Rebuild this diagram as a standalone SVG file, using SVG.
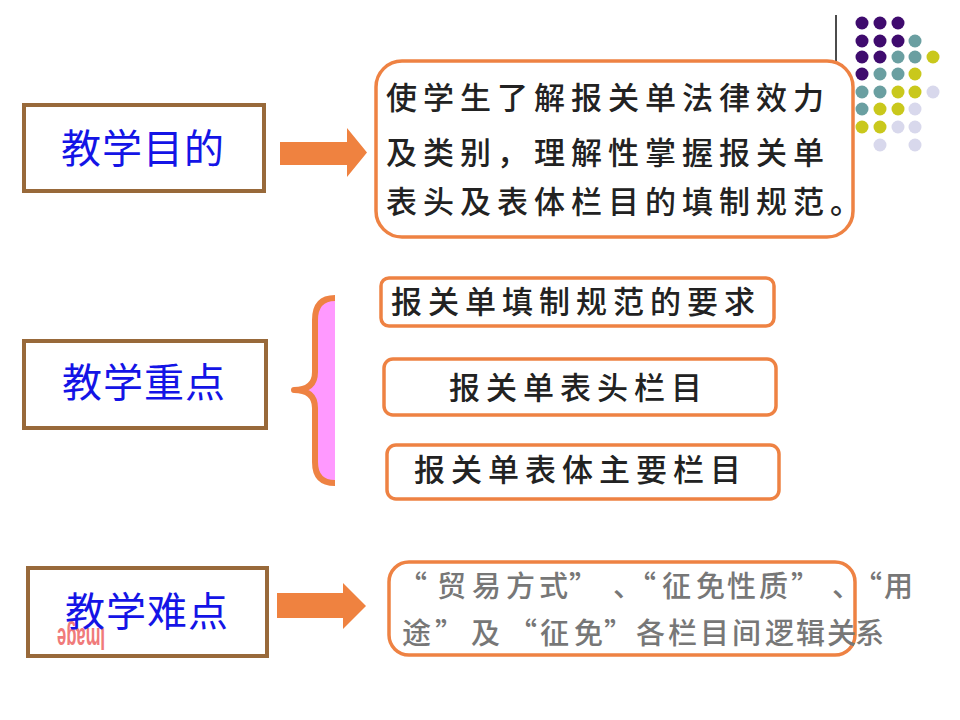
<svg xmlns="http://www.w3.org/2000/svg" width="960" height="720" viewBox="0 0 960 720">
<style>
.lbl{fill:none;stroke:#98693A;stroke-width:4}
.blue{font-family:"Noto Sans CJK SC","Liberation Sans",sans-serif;font-size:40px;fill:#1414E6;letter-spacing:1px}
.rb{fill:#fff;stroke:#EE8243;stroke-width:3.5}
.dk{font-family:"Noto Sans CJK SC","Liberation Sans",sans-serif;font-size:31px;fill:#222;font-weight:500;letter-spacing:6px}
.gr{font-family:"Noto Sans CJK SC","Liberation Sans",sans-serif;font-size:29px;fill:#777;font-weight:500}
.arrow{fill:#EF8240}
.pu{fill:#3F0B6E}.te{fill:#6A9FA1}.ye{fill:#C9C81C}.la{fill:#D8D8EC}
</style>
<rect width="960" height="720" fill="#fff"/>

<g id="decor">
<line x1="836" y1="15" x2="836" y2="175" stroke="#111" stroke-width="1.5"/>
<circle class="pu" cx="862" cy="23" r="6.5"/><circle class="pu" cx="880" cy="23" r="6.5"/><circle class="pu" cx="898" cy="23" r="6.5"/>
<circle class="pu" cx="862" cy="41" r="6.5"/><circle class="pu" cx="880" cy="41" r="6.5"/><circle class="pu" cx="898" cy="41" r="6.5"/><circle class="te" cx="915" cy="41" r="6.5"/>
<circle class="pu" cx="862" cy="57" r="6.5"/><circle class="pu" cx="880" cy="57" r="6.5"/><circle class="te" cx="898" cy="57" r="6.5"/><circle class="te" cx="915" cy="57" r="6.5"/><circle class="ye" cx="933" cy="57" r="6.5"/>
<circle class="pu" cx="862" cy="74" r="6.5"/><circle class="te" cx="880" cy="74" r="6.5"/><circle class="te" cx="898" cy="74" r="6.5"/><circle class="ye" cx="915" cy="74" r="6.5"/>
<circle class="te" cx="862" cy="92" r="6.5"/><circle class="te" cx="880" cy="92" r="6.5"/><circle class="ye" cx="898" cy="92" r="6.5"/><circle class="ye" cx="915" cy="92" r="6.5"/><circle class="la" cx="933" cy="92" r="6.5"/>
<circle class="te" cx="862" cy="109" r="6.5"/><circle class="ye" cx="880" cy="109" r="6.5"/><circle class="ye" cx="898" cy="109" r="6.5"/><circle class="la" cx="915" cy="109" r="6.5"/>
<circle class="ye" cx="862" cy="127" r="6.5"/><circle class="ye" cx="880" cy="127" r="6.5"/><circle class="la" cx="898" cy="127" r="6.5"/><circle class="la" cx="915" cy="127" r="6.5"/>
<circle class="la" cx="880" cy="145" r="6.5"/><circle class="la" cx="915" cy="145" r="6.5"/>
</g>

<g id="goal">
<rect class="lbl" x="24" y="105" width="240" height="86"/>
<text class="blue" x="61" y="163">教学目的</text>
</g>
<g id="key">
<rect class="lbl" x="24" y="341" width="242" height="87"/>
<text class="blue" x="62" y="397">教学重点</text>
</g>
<g id="difficult">
<rect class="lbl" x="28" y="568" width="239" height="88"/>
<text transform="translate(105,628) rotate(180)" x="0" y="0" font-family="Liberation Sans Narrow,Liberation Sans,sans-serif" font-size="32" font-weight="bold" fill="#F07A7A" textLength="48" lengthAdjust="spacingAndGlyphs">Image</text>
<text class="blue" x="65" y="626">教学难点</text>
</g>

<g id="goal-detail">
<rect class="rb" x="376" y="61" width="477" height="176" rx="26"/>
<text class="dk" x="386" y="109">使学生了解报关单法律效力</text>
<text class="dk" x="386" y="164">及类别，理解性掌握报关单</text>
<text class="dk" x="386" y="213">表头及表体栏目的填制规范。</text>
</g>

<g id="key1">
<rect class="rb" x="381" y="278" width="393" height="48" rx="8"/>
<text class="dk" x="391" y="313">报关单填制规范的要求</text>
</g>
<g id="key2">
<rect class="rb" x="384" y="359" width="392" height="56" rx="9"/>
<text class="dk" x="449" y="399">报关单表头栏目</text>
</g>
<g id="key3">
<rect class="rb" x="387" y="445" width="392" height="54" rx="9"/>
<text class="dk" x="414" y="481">报关单表体主要栏目</text>
</g>

<g id="difficult-detail">
<rect fill="none" stroke="#EE8243" stroke-width="3.5" x="389" y="562" width="466" height="93" rx="20"/>
<text class="gr" y="597" x="398 437 472 506 539 569 613 627 662 696 727 759 791 832 853 884">“贸易方式”、“征免性质”、“用</text>
<text class="gr" y="644" x="402 435 471 508 540 574 604 636 668 700 732 765 796 827 855">途”及“征免”各栏目间逻辑关系</text>
</g>

<g id="connectors">
<polygon class="arrow" points="280,142 347,142 347,128 367,152.5 347,177 347,165 280,165"/>
<polygon class="arrow" points="277,593 343,593 343,583 366,606 343,629 343,618 277,618"/>
<path d="M335,298 Q315,298 315,320 L315,372 Q315,390 294,390 Q315,390 315,408 L315,462 Q315,483 335,483 Z" fill="#FF99FF"/>
<path d="M335,298 Q315,298 315,320 L315,372 Q315,390 294,390 Q315,390 315,408 L315,462 Q315,483 335,483" fill="none" stroke="#EE8243" stroke-width="6" stroke-linejoin="round"/>
</g>
</svg>
